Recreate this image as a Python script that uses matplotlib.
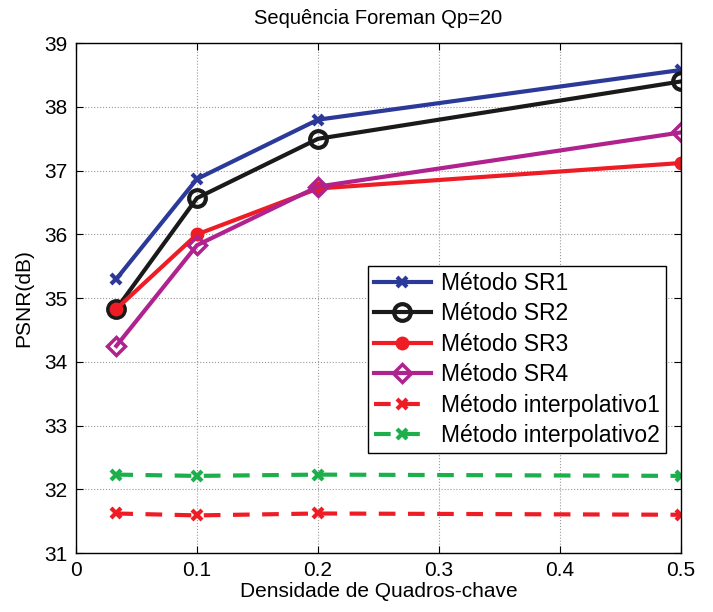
import matplotlib
matplotlib.use("Agg")
import matplotlib.pyplot as plt

plt.rcParams['font.family'] = ['Liberation Sans', 'DejaVu Sans']

# data
densidade = [1 / 30, 0.1, 0.2, 0.5]
sr1 = [35.30, 36.87, 37.80, 38.58]
sr2 = [34.83, 36.57, 37.50, 38.40]
sr3 = [34.83, 36.00, 36.72, 37.12]
sr4 = [34.25, 35.83, 36.75, 37.60]
interp1 = [31.62, 31.59, 31.62, 31.60]
interp2 = [32.23, 32.21, 32.23, 32.21]

fig = plt.figure(figsize=(7.13, 6.12), dpi=100)
ax = fig.add_axes([0.1066, 0.0964, 0.8485, 0.833])

lw = 3.0
ax.plot(densidade, sr1, color="#2B3A98", lw=lw, marker="x", ms=7, mew=3, label="Método SR1")
ax.plot(densidade, sr2, color="#1a1a1a", lw=lw, marker="o", ms=12, mew=3, mfc="none", label="Método SR2")
ax.plot(densidade, sr3, color="#EE1C25", lw=lw, marker="o", ms=9, mew=1, label="Método SR3")
ax.plot(densidade, sr4, color="#B0228E", lw=lw, marker="D", ms=9, mew=2.5, mfc="none", label="Método SR4")
ax.plot(densidade, interp1, color="#EE1C25", lw=lw, ls=(0, (4, 3)), marker="x", ms=7, mew=3,
        label="Método interpolativo1")
ax.plot(densidade, interp2, color="#1DAF4B", lw=lw, ls=(0, (4, 3)), marker="x", ms=7, mew=3,
        label="Método interpolativo2")

ax.set_xlim(0, 0.5)
ax.set_ylim(31, 39)
ax.set_xticks([0, 0.1, 0.2, 0.3, 0.4, 0.5])
ax.set_xticklabels(["0", "0.1", "0.2", "0.3", "0.4", "0.5"])
ax.set_yticks(range(31, 40))
ax.tick_params(direction="in", labelsize=15, length=5, top=True, right=True, pad=6)
ax.grid(True, color="#999999", ls=":", lw=0.8)
for s in ax.spines.values():
    s.set_linewidth(1.0)

ax.set_title("Sequência Foreman Qp=20", fontsize=14.5, pad=14)
ax.set_xlabel("Densidade de Quadros-chave", fontsize=15, labelpad=1)
ax.set_ylabel("PSNR(dB)", fontsize=15, labelpad=8)

leg = ax.legend(loc="lower right", bbox_to_anchor=(0.975, 0.196), fontsize=16.5,
                fancybox=False, edgecolor="black", framealpha=1, handlelength=2.5,
                borderpad=0.25, labelspacing=0.33, handletextpad=0.45, borderaxespad=0)
leg.get_frame().set_linewidth(1.0)

fig.savefig("out.png", dpi=100)
